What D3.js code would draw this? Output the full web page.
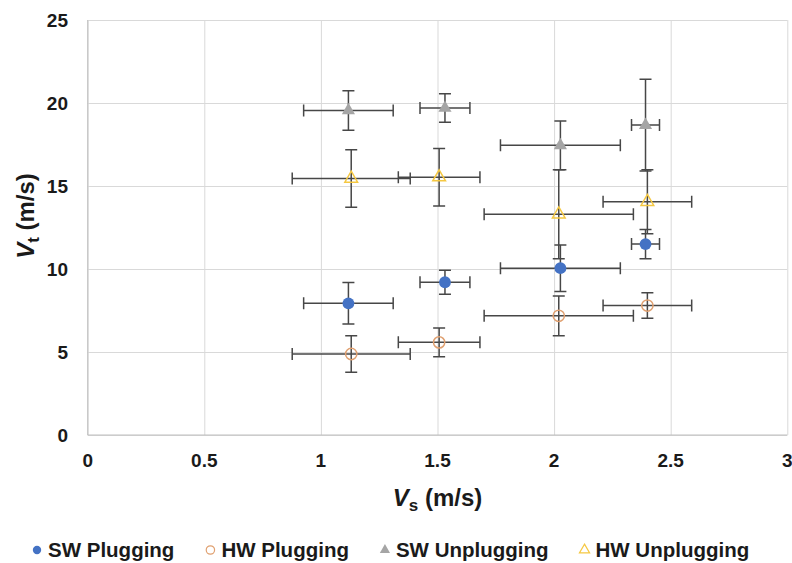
<!DOCTYPE html>
<html>
<head>
<meta charset="utf-8">
<script src="https://cdn.jsdelivr.net/npm/d3@7"></script>
<style>
  body { margin: 0; background: white; }
  svg { display: block; font-family: "Liberation Sans", Arial, sans-serif; }
</style>
</head>
<body>
<script>
// values
const seriesNames = ["SW Plugging", "HW Plugging", "SW Unplugging", "HW Unplugging"];

const swPlugX = [1.118, 1.532, 2.027, 2.392];
const swPlugY = [7.93, 9.2, 10.05, 11.5];
const swPlugXErr = [0.192, 0.107, 0.257, 0.06];
const swPlugYErr = [1.25, 0.72, 1.4, 0.88];

const hwPlugX = [1.13, 1.507, 2.02, 2.40];
const hwPlugY = [4.88, 5.58, 7.18, 7.8];
const hwPlugXErr = [0.253, 0.175, 0.32, 0.19];
const hwPlugYErr = [1.1, 0.87, 1.2, 0.77];

const swUnplugX = [1.118, 1.532, 2.027, 2.392];
const swUnplugY = [19.55, 19.7, 17.45, 18.67];
const swUnplugXErr = [0.192, 0.107, 0.257, 0.06];
const swUnplugYErr = [1.19, 0.86, 1.47, 2.76];

const hwUnplugX = [1.13, 1.507, 2.02, 2.40];
const hwUnplugY = [15.45, 15.53, 13.3, 14.05];
const hwUnplugXErr = [0.253, 0.175, 0.32, 0.19];
const hwUnplugYErr = [1.73, 1.73, 2.68, 1.93];

const xTicks = [0, 0.5, 1, 1.5, 2, 2.5, 3];
const yTicks = [0, 5, 10, 15, 20, 25];

const width = 792;
const height = 563;

const x = d3.scaleLinear().domain([0, 3]).range([87.7, 787.3]);
const y = d3.scaleLinear().domain([0, 25]).range([435, 20]);

const svg = d3.select("body").append("svg")
  .attr("width", width)
  .attr("height", height);

// gridlines
svg.append("g")
  .attr("transform", "translate(0," + y(0) + ")")
  .call(d3.axisBottom(x).tickValues(xTicks).tickSize(-(y(0) - y(25))).tickFormat(""))
  .call(g => g.select(".domain").remove())
  .call(g => g.selectAll("line").attr("stroke", "#d9d9d9"));

svg.append("g")
  .attr("transform", "translate(" + x(0) + ",0)")
  .call(d3.axisLeft(y).tickValues(yTicks).tickSize(-(x(3) - x(0))).tickFormat(""))
  .call(g => g.select(".domain").remove())
  .call(g => g.selectAll("line").attr("stroke", "#d9d9d9"));

// axis lines
svg.append("line")
  .attr("x1", x(0)).attr("x2", x(3)).attr("y1", y(0)).attr("y2", y(0))
  .attr("stroke", "#bfbfbf");
svg.append("line")
  .attr("x1", x(0)).attr("x2", x(0)).attr("y1", y(0)).attr("y2", y(25))
  .attr("stroke", "#bfbfbf");

// tick labels
svg.append("g").selectAll("text")
  .data(xTicks)
  .enter().append("text")
  .attr("x", d => x(d))
  .attr("y", 467)
  .attr("text-anchor", "middle")
  .attr("font-size", 19)
  .attr("font-weight", "bold")
  .attr("fill", "#1a1a1a")
  .text(d => d);

svg.append("g").selectAll("text")
  .data(yTicks)
  .enter().append("text")
  .attr("x", 68)
  .attr("y", d => y(d) + 7)
  .attr("text-anchor", "end")
  .attr("font-size", 19)
  .attr("font-weight", "bold")
  .attr("fill", "#1a1a1a")
  .text(d => d);

// axis titles
const xTitle = svg.append("text")
  .attr("x", (x(0) + x(3)) / 2)
  .attr("y", 506)
  .attr("text-anchor", "middle")
  .attr("font-size", 24)
  .attr("font-weight", "bold")
  .attr("fill", "#1a1a1a");
xTitle.append("tspan").attr("font-style", "italic").text("V");
xTitle.append("tspan").attr("font-size", 17).attr("dy", 5).text("s");
xTitle.append("tspan").attr("dy", -5).text(" (m/s)");

const yTitle = svg.append("text")
  .attr("transform", "translate(34,216) rotate(-90)")
  .attr("text-anchor", "middle")
  .attr("font-size", 24)
  .attr("font-weight", "bold")
  .attr("fill", "#1a1a1a");
yTitle.append("tspan").attr("font-style", "italic").text("V");
yTitle.append("tspan").attr("font-size", 17).attr("dy", 5).text("t");
yTitle.append("tspan").attr("dy", -5).text(" (m/s)");

function rows(xs, ys, xe, ye) {
  return xs.map((d, i) => ({ x: d, y: ys[i], xe: xe[i], ye: ye[i] }));
}

const series = [
  { name: seriesNames[0], data: rows(swPlugX, swPlugY, swPlugXErr, swPlugYErr),
    shape: d3.symbolCircle, size: 110, fill: "#4472c4", stroke: "none" },
  { name: seriesNames[1], data: rows(hwPlugX, hwPlugY, hwPlugXErr, hwPlugYErr),
    shape: d3.symbolCircle, size: 100, fill: "none", stroke: "#e0a070" },
  { name: seriesNames[2], data: rows(swUnplugX, swUnplugY, swUnplugXErr, swUnplugYErr),
    shape: d3.symbolTriangle, size: 75, fill: "#a5a5a5", stroke: "none" },
  { name: seriesNames[3], data: rows(hwUnplugX, hwUnplugY, hwUnplugXErr, hwUnplugYErr),
    shape: d3.symbolTriangle, size: 70, fill: "none", stroke: "#f5c842" }
];

// error bars first, markers on top
const cap = 6;
const errColor = "#474747";
series.forEach(s => {
  const g = svg.append("g").attr("stroke", errColor).attr("stroke-width", 1.5).attr("fill", "none");
  s.data.forEach(d => {
    const cx = x(d.x), cy = y(d.y);
    const x0 = x(d.x - d.xe), x1 = x(d.x + d.xe);
    const y0 = y(d.y - d.ye), y1 = y(d.y + d.ye);
    g.append("path").attr("d",
      "M" + x0 + "," + cy + "H" + x1 +
      "M" + x0 + "," + (cy - cap) + "V" + (cy + cap) +
      "M" + x1 + "," + (cy - cap) + "V" + (cy + cap) +
      "M" + cx + "," + y0 + "V" + y1 +
      "M" + (cx - cap) + "," + y0 + "H" + (cx + cap) +
      "M" + (cx - cap) + "," + y1 + "H" + (cx + cap));
  });
});

series.forEach(s => {
  svg.append("g").selectAll("path")
    .data(s.data)
    .enter().append("path")
    .attr("transform", d => "translate(" + x(d.x) + "," + y(d.y) + ")")
    .attr("d", d3.symbol().type(s.shape).size(s.size))
    .attr("fill", s.fill)
    .attr("stroke", s.stroke)
    .attr("stroke-width", 1.5);
});

// legend
let lx = 37;
series.forEach(s => {
  const small = s.shape === d3.symbolCircle ? 55 : 45;
  svg.append("path")
    .attr("transform", "translate(" + lx + ",550)")
    .attr("d", d3.symbol().type(s.shape).size(small))
    .attr("fill", s.fill)
    .attr("stroke", s.stroke)
    .attr("stroke-width", 1.2);
  const t = svg.append("text")
    .attr("x", lx + 11)
    .attr("y", 557)
    .attr("font-size", 20.5)
    .attr("font-weight", "bold")
    .attr("fill", "#1a1a1a")
    .text(s.name);
  lx += 11 + t.node().getComputedTextLength() + 36;
});
</script>
</body>
</html>
